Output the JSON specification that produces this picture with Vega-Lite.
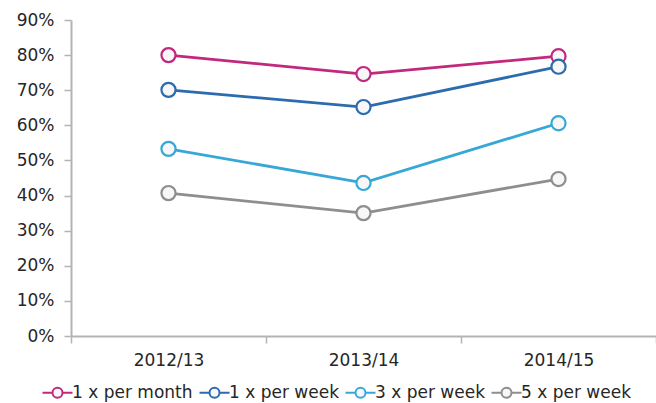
{
  "$schema": "https://vega.github.io/schema/vega-lite/v6.json",
  "width": 585,
  "height": 316,
  "autosize": "none",
  "padding": {"left": 71, "top": 20, "right": 0, "bottom": 67},
  "background": "white",
  "config": {
    "view": {"stroke": null},
    "font": "DejaVu Sans",
    "axis": {
      "grid": false,
      "domainColor": "#b3b3b3",
      "domainWidth": 2,
      "tickColor": "#b3b3b3",
      "tickWidth": 1.5,
      "tickSize": 7,
      "labelFont": "DejaVu Sans",
      "labelFontSize": 17,
      "labelColor": "#262626",
      "title": null
    }
  },
  "data": {
    "values": [
      {"year": "2012/13", "series": "1 x per month", "value": 0.800},
      {"year": "2013/14", "series": "1 x per month", "value": 0.746},
      {"year": "2014/15", "series": "1 x per month", "value": 0.797},
      {"year": "2012/13", "series": "1 x per week", "value": 0.701},
      {"year": "2013/14", "series": "1 x per week", "value": 0.652},
      {"year": "2014/15", "series": "1 x per week", "value": 0.767},
      {"year": "2012/13", "series": "3 x per week", "value": 0.533},
      {"year": "2013/14", "series": "3 x per week", "value": 0.436},
      {"year": "2014/15", "series": "3 x per week", "value": 0.606},
      {"year": "2012/13", "series": "5 x per week", "value": 0.407},
      {"year": "2013/14", "series": "5 x per week", "value": 0.350},
      {"year": "2014/15", "series": "5 x per week", "value": 0.447}
    ]
  },
  "encoding": {
    "x": {
      "field": "year",
      "type": "nominal",
      "scale": {"type": "band", "paddingInner": 0, "paddingOuter": 0},
      "bandPosition": 0.5,
      "axis": {"labelAngle": 0, "tickBand": "extent", "labelPadding": 9}
    },
    "y": {
      "field": "value",
      "type": "quantitative",
      "scale": {"domain": [0, 0.9], "nice": false},
      "axis": {"format": ".0%", "values": [0, 0.1, 0.2, 0.3, 0.4, 0.5, 0.6, 0.7, 0.8, 0.9], "labelPadding": 10}
    },
    "color": {
      "field": "series",
      "type": "nominal",
      "sort": ["1 x per month", "1 x per week", "3 x per week", "5 x per week"],
      "scale": {
        "domain": ["1 x per month", "1 x per week", "3 x per week", "5 x per week"],
        "range": ["#c2287d", "#2c6bae", "#37a8d6", "#8e8e8e"]
      },
      "legend": {
        "title": null,
        "orient": "none",
        "legendX": -22,
        "legendY": 364,
        "direction": "horizontal",
        "columnPadding": 2,
        "symbolType": "M-3,0H-1M1,0H3M1,0A1,1 0 1,1 -1,0A1,1 0 1,1 1,0Z",
        "symbolSize": 100,
        "symbolStrokeWidth": 2,
        "symbolFillColor": "#f7f7f7",
        "labelOffset": 6,
        "labelFont": "DejaVu Sans",
        "labelFontSize": 17,
        "labelColor": "#262626"
      }
    }
  },
  "layer": [
    {"mark": {"type": "line", "strokeWidth": 2.8}},
    {"mark": {"type": "point", "filled": false, "fill": "#f7f7f7", "fillOpacity": 1, "size": 200, "strokeWidth": 2.2, "opacity": 1}}
  ]
}
